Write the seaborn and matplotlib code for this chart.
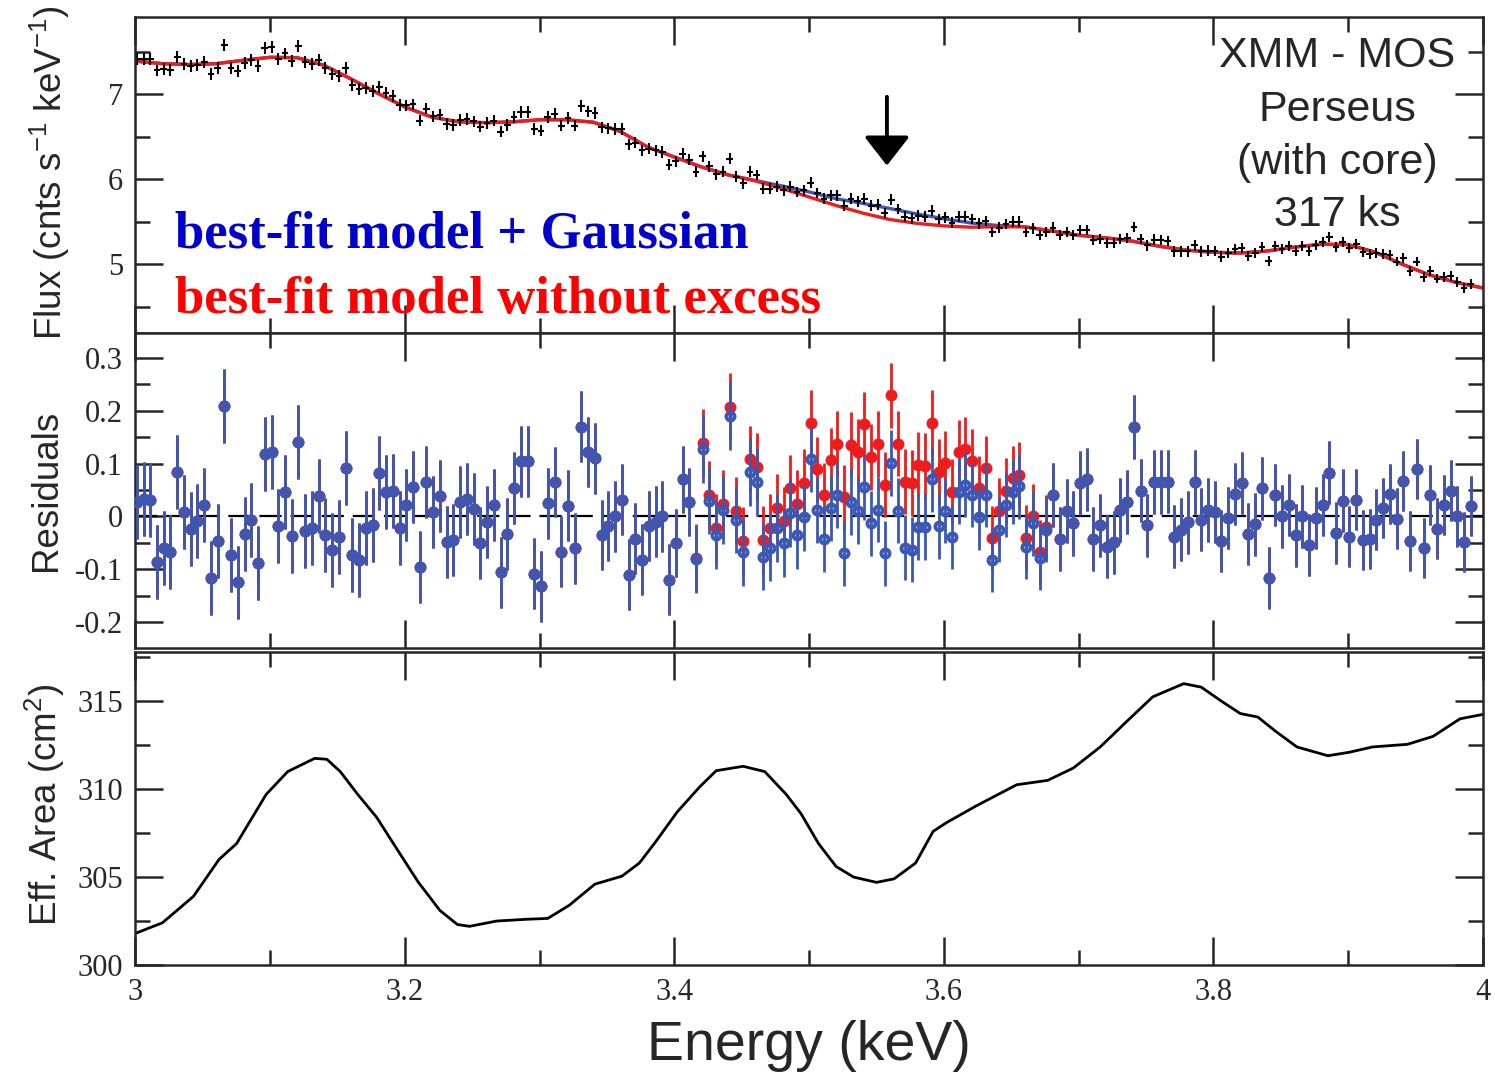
import numpy as np
import matplotlib
matplotlib.use("Agg")
import matplotlib.pyplot as plt
import seaborn as sns
from matplotlib.ticker import MultipleLocator, FuncFormatter

# bins of 5 eV between 3 and 4 keV
energia = 3.001 + 0.005 * np.arange(199)

# measured flux (cnts s^-1 keV^-1), one value per bin
flujo = [7.42, 7.42, 7.41, 7.28, 7.30, 7.29, 7.44, 7.36, 7.33, 7.34,
         7.38, 7.24, 7.31, 7.58, 7.31, 7.27, 7.37, 7.40, 7.33, 7.54,
         7.56, 7.42, 7.48, 7.39, 7.57, 7.38, 7.36, 7.40, 7.31, 7.24,
         7.22, 7.31, 7.11, 7.06, 7.07, 7.04, 7.09, 7.02, 6.98, 6.87,
         6.87, 6.88, 6.69, 6.83, 6.74, 6.76, 6.65, 6.64, 6.70, 6.71,
         6.68, 6.62, 6.66, 6.69, 6.56, 6.64, 6.73, 6.79, 6.79, 6.59,
         6.57, 6.73, 6.77, 6.63, 6.72, 6.63, 6.86, 6.80, 6.78, 6.61,
         6.60, 6.59, 6.59, 6.41, 6.43, 6.34, 6.36, 6.34, 6.32, 6.17,
         6.21, 6.30, 6.23, 6.09, 6.27, 6.15, 6.06, 6.09, 6.24, 6.03,
         5.95, 6.09, 6.05, 5.89, 5.89, 5.91, 5.87, 5.91, 5.85, 5.87,
         5.96, 5.84, 5.77, 5.81, 5.81, 5.69, 5.77, 5.74, 5.77, 5.69,
         5.70, 5.60, 5.76, 5.65, 5.56, 5.54, 5.57, 5.56, 5.63, 5.53,
         5.55, 5.49, 5.56, 5.56, 5.53, 5.48, 5.51, 5.38, 5.43, 5.47,
         5.50, 5.50, 5.38, 5.42, 5.34, 5.38, 5.43, 5.34, 5.38, 5.34,
         5.40, 5.40, 5.28, 5.30, 5.25, 5.25, 5.30, 5.31, 5.44, 5.30,
         5.22, 5.29, 5.28, 5.27, 5.15, 5.15, 5.15, 5.22, 5.15, 5.16,
         5.15, 5.09, 5.13, 5.18, 5.19, 5.10, 5.13, 5.20, 5.04, 5.21,
         5.18, 5.21, 5.16, 5.21, 5.16, 5.22, 5.26, 5.32, 5.20, 5.26,
         5.19, 5.24, 5.14, 5.12, 5.13, 5.12, 5.11, 5.03, 5.07, 4.92,
         5.03, 4.85, 4.92, 4.83, 4.85, 4.86, 4.79, 4.72, 4.77]

# residuals against best-fit model + Gaussian
resid_gauss = [0.027, 0.033, 0.031, -0.087, -0.059, -0.068, 0.085, 0.008, -0.023, -0.008,
               0.022, -0.116, -0.047, 0.209, -0.073, -0.125, -0.034, -0.006, -0.089, 0.118,
               0.122, -0.018, 0.047, -0.037, 0.140, -0.027, -0.021, 0.038, -0.035, -0.063,
               -0.038, 0.091, -0.073, -0.083, -0.021, -0.016, 0.082, 0.047, 0.049, -0.021,
               0.022, 0.055, -0.096, 0.065, 0.009, 0.039, -0.049, -0.045, 0.027, 0.033,
               0.014, -0.051, -0.010, 0.022, -0.106, -0.034, 0.053, 0.104, 0.104, -0.108,
               -0.132, 0.025, 0.065, -0.067, 0.020, -0.060, 0.170, 0.122, 0.110, -0.035,
               -0.018, 0.000, 0.032, -0.110, -0.042, -0.082, -0.018, -0.010, 0.000, -0.120,
               -0.050, 0.070, 0.027, -0.080, 0.128, 0.030, -0.035, 0.012, 0.190, -0.006,
               -0.068, 0.084, 0.065, -0.076, -0.059, -0.022, -0.050, 0.006, -0.035, -0.002,
               0.108, 0.012, -0.043, 0.016, 0.041, -0.070, 0.027, 0.010, 0.055, -0.013,
               0.013, -0.070, 0.101, 0.011, -0.059, -0.063, -0.020, -0.020, 0.070, -0.018,
               0.011, -0.038, 0.047, 0.060, 0.041, -0.002, 0.041, -0.082, -0.025, 0.022,
               0.047, 0.057, -0.057, -0.013, -0.078, -0.025, 0.041, -0.043, 0.010, -0.013,
               0.063, 0.070, -0.043, -0.017, -0.057, -0.049, 0.012, 0.027, 0.169, 0.049,
               -0.017, 0.065, 0.065, 0.066, -0.038, -0.025, -0.011, 0.065, -0.006, 0.012,
               0.008, -0.046, -0.003, 0.043, 0.063, -0.033, -0.015, 0.053, -0.116, 0.040,
               0.000, 0.022, -0.036, 0.000, -0.054, -0.003, 0.022, 0.083, -0.031, 0.030,
               -0.038, 0.032, -0.044, -0.043, -0.006, 0.016, 0.043, -0.004, 0.067, -0.046,
               0.090, -0.060, 0.040, -0.023, 0.022, 0.049, 0.000, -0.049, 0.020]

# residuals against model without excess, bins 83..135 (identical elsewhere)
inicio_exceso = 83
resid_exceso = [-0.078, 0.139, 0.040, -0.022, 0.023, 0.208, 0.011, -0.047, 0.108, 0.093,
                -0.044, -0.022, 0.016, -0.008, 0.053, 0.023, 0.064, 0.177, 0.089, 0.040,
                0.106, 0.137, 0.036, 0.136, 0.122, 0.174, 0.112, 0.137, 0.060, 0.229,
                0.138, 0.066, 0.063, 0.098, 0.095, 0.177, 0.084, 0.101, 0.047, 0.122,
                0.128, 0.104, 0.054, 0.091, -0.041, 0.011, 0.049, 0.073, 0.079, -0.040,
                0.000, -0.068, -0.020]

# 1-sigma error per 0.1 keV stretch
err_tramo = [0.070, 0.070, 0.068, 0.067, 0.064, 0.062, 0.061, 0.060, 0.059, 0.057]

# model curves
e_modelo = [3.00, 3.02, 3.04, 3.06, 3.08, 3.10, 3.12, 3.14, 3.16, 3.18,
            3.20, 3.22, 3.24, 3.26, 3.28, 3.30, 3.32, 3.34, 3.36, 3.38,
            3.40, 3.42, 3.44, 3.46, 3.48, 3.50, 3.52, 3.54, 3.56, 3.58,
            3.60, 3.62, 3.64, 3.66, 3.68, 3.70, 3.72, 3.74, 3.76, 3.78,
            3.80, 3.82, 3.84, 3.86, 3.88, 3.90, 3.92, 3.94, 3.96, 3.98, 4.00]
modelo_gauss = [7.39, 7.36, 7.35, 7.36, 7.40, 7.435, 7.43, 7.34, 7.18, 7.01,
                6.85, 6.73, 6.675, 6.665, 6.675, 6.70, 6.70, 6.67, 6.56, 6.38,
                6.26, 6.145, 6.05, 5.985, 5.92, 5.85, 5.77, 5.715, 5.655, 5.59,
                5.535, 5.485, 5.455, 5.44, 5.39, 5.34, 5.31, 5.27, 5.21, 5.165,
                5.14, 5.13, 5.155, 5.20, 5.235, 5.23, 5.14, 5.00, 4.875, 4.785, 4.72]
modelo_sin = [7.39, 7.36, 7.35, 7.36, 7.40, 7.435, 7.43, 7.34, 7.18, 7.01,
              6.85, 6.73, 6.675, 6.665, 6.675, 6.70, 6.70, 6.67, 6.56, 6.38,
              6.26, 6.145, 6.05, 5.98, 5.89, 5.79, 5.69, 5.60, 5.525, 5.48,
              5.45, 5.435, 5.44, 5.44, 5.39, 5.34, 5.31, 5.27, 5.21, 5.165,
              5.14, 5.13, 5.155, 5.20, 5.235, 5.23, 5.14, 5.00, 4.875, 4.785, 4.72]

# effective area (cm^2)
e_area = [3.000, 3.020, 3.043, 3.062, 3.075, 3.097, 3.113, 3.133, 3.142, 3.152,
          3.165, 3.179, 3.194, 3.210, 3.226, 3.239, 3.248, 3.268, 3.290, 3.306,
          3.322, 3.341, 3.361, 3.374, 3.386, 3.402, 3.419, 3.431, 3.451, 3.467,
          3.483, 3.494, 3.507, 3.520, 3.533, 3.550, 3.563, 3.579, 3.592, 3.602,
          3.624, 3.654, 3.677, 3.696, 3.716, 3.735, 3.755, 3.778, 3.791, 3.807,
          3.820, 3.833, 3.846, 3.862, 3.885, 3.901, 3.918, 3.944, 3.963, 3.983, 4.000]
area_ef = [301.8, 302.4, 303.9, 306.0, 306.9, 309.7, 311.0, 311.75, 311.7, 311.0,
           309.7, 308.4, 306.6, 304.7, 303.1, 302.3, 302.2, 302.5, 302.6, 302.65,
           303.4, 304.6, 305.05, 305.8, 307.0, 308.7, 310.15, 311.05, 311.3, 311.0,
           309.7, 308.6, 306.9, 305.6, 305.0, 304.7, 304.9, 305.8, 307.6, 308.1,
           309.05, 310.25, 310.5, 311.2, 312.4, 313.8, 315.25, 316.0, 315.8, 314.95,
           314.3, 314.1, 313.3, 312.4, 311.9, 312.1, 312.4, 312.55, 313.0, 314.0, 314.25]

resid_sin = np.array(resid_gauss)
resid_sin[inicio_exceso:inicio_exceso + len(resid_exceso)] = resid_exceso
err = np.repeat(err_tramo, 20)[:len(energia)]

sns.set_style("ticks")
plt.rcParams['font.family'] = ['Liberation Serif', 'DejaVu Serif']
plt.rcParams['mathtext.fontset'] = 'custom'
plt.rcParams['mathtext.rm'] = 'Liberation Sans'
plt.rcParams['mathtext.it'] = 'Liberation Sans'
plt.rcParams['axes.unicode_minus'] = False

azul = '#3a58b4'
rojo = '#ee1c1c'

fig = plt.figure(figsize=(14.95, 10.72), dpi=100)
ax1 = fig.add_axes([0.0906, 0.6894, 0.9013, 0.2948])
ax2 = fig.add_axes([0.0906, 0.3955, 0.9013, 0.2938])
ax3 = fig.add_axes([0.0906, 0.0998, 0.9013, 0.2920])

# top: spectrum
sns.lineplot(x=e_modelo, y=modelo_gauss, color=azul, lw=2.4, ax=ax1)
sns.lineplot(x=e_modelo, y=modelo_sin, color=rojo, lw=2.4, ax=ax1)
ax1.errorbar(energia, flujo, yerr=err, xerr=0.0025, fmt='none', ecolor='k', elinewidth=1.5)
ax1.annotate('', xy=(3.5577, 6.16), xytext=(3.5577, 6.97),
             arrowprops=dict(arrowstyle='-|>,head_length=0.9,head_width=0.7', color='k',
                             lw=2.8, mutation_scale=20, shrinkA=0, shrinkB=0))
ax1.text(0.0293, 0.269, 'best-fit model + Gaussian', transform=ax1.transAxes, color='#0000cc',
         fontsize=38, fontweight='bold', family='Liberation Serif', va='baseline')
ax1.text(0.0293, 0.063, 'best-fit model without excess', transform=ax1.transAxes, color='#ff0000',
         fontsize=38, fontweight='bold', family='Liberation Serif', va='baseline')
for texto, yy in zip(['XMM - MOS', 'Perseus', '(with core)', '317 ks'], [0.842, 0.672, 0.503, 0.339]):
    ax1.text(0.8917, yy, texto, transform=ax1.transAxes, ha='center', va='baseline',
             fontsize=31, family='Liberation Sans')
ax1.set_ylim(4.19, 7.91)
ax1.yaxis.set_major_locator(MultipleLocator(1))
ax1.yaxis.set_minor_locator(MultipleLocator(0.5))

# middle: residuals
ax2.axhline(0, color='k', lw=1.6, ls=(0, (10, 4)), zorder=1)
ax2.errorbar(energia, resid_sin, yerr=err, fmt='o', color=rojo, ms=8.6, mew=0,
             elinewidth=2.0, zorder=2)
ax2.errorbar(energia, resid_gauss, yerr=err, fmt='o', mfc='none', mec=azul, ecolor=azul,
             ms=5.8, mew=2.8, elinewidth=2.0, zorder=3)
ax2.set_ylim(-0.249, 0.347)
ax2.yaxis.set_major_locator(MultipleLocator(0.1))
ax2.yaxis.set_minor_locator(MultipleLocator(0.05))

# bottom: effective area
sns.lineplot(x=e_area, y=area_ef, color='k', lw=2.0, ax=ax3)
ax3.set_ylim(300, 317.8)
ax3.yaxis.set_major_locator(MultipleLocator(5))
ax3.yaxis.set_minor_locator(MultipleLocator(2.5))

fmt = FuncFormatter(lambda v, p: f'{v:g}'.replace('\u2212', '-'))
for ax in (ax1, ax2, ax3):
    ax.set_xlim(3, 4)
    ax.xaxis.set_major_locator(MultipleLocator(0.2))
    ax.xaxis.set_minor_locator(MultipleLocator(0.1))
    ax.tick_params(which='both', direction='in', top=True, right=True, width=1.8,
                   labelsize=22, pad=9)
    ax.tick_params(which='major', length=20)
    ax.tick_params(which='minor', length=11)
    ax.yaxis.set_major_formatter(fmt)
    ax.xaxis.set_major_formatter(fmt)
    for s in ax.spines.values():
        s.set_linewidth(1.8)
    ax.set_xlabel('')
ax1.tick_params(labelbottom=False)
ax2.tick_params(labelbottom=False)

lab = dict(fontsize=26.5, family='Liberation Sans', va='center', ha='center')
ax1.set_ylabel('Flux (cnts s$^{-1}$ keV$^{-1}$)', **lab)
ax1.yaxis.set_label_coords(-0.0635, 0.506)
ax2.set_ylabel('Residuals', **lab)
ax2.yaxis.set_label_coords(-0.0657, 0.50)
ax3.set_ylabel('Eff. Area (cm$^2$)', **lab)
ax3.yaxis.set_label_coords(-0.067, 0.511)
ax3.set_xlabel('Energy (keV)', fontsize=40, family='Liberation Sans', va='baseline')
ax3.xaxis.set_label_coords(0.5, -0.3035)

fig.savefig('out.png', dpi=100)
